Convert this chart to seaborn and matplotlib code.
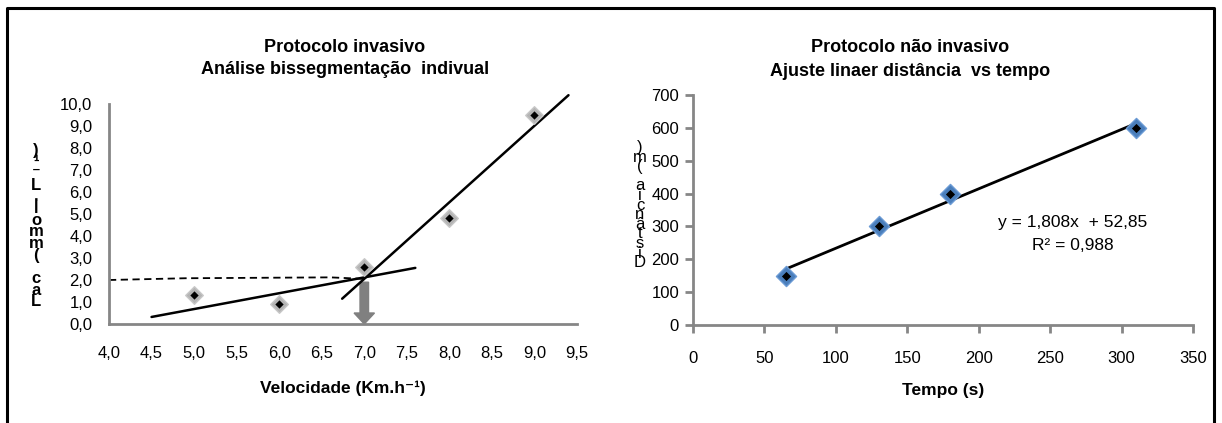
import numpy as np
import pandas as pd
import matplotlib
matplotlib.use("Agg")
import matplotlib.pyplot as plt
from matplotlib.lines import Line2D
import seaborn as sns

# invasive protocol (lactate vs speed)
speed = [5.0, 6.0, 7.0, 8.0, 9.0]
lactate = [1.3, 0.9, 2.6, 4.8, 9.5]
low_seg_x = [4.5, 7.6]
low_seg_y = [0.32, 2.55]
high_seg_x = [6.74, 9.4]
high_seg_y = [1.15, 10.4]
dash_x = [4.0, 4.9, 6.6, 7.0]
dash_y = [2.0, 2.08, 2.12, 2.05]
threshold_speed = 7.0
threshold_lactate = 1.9
x_ticks_left = [4.0, 4.5, 5.0, 5.5, 6.0, 6.5, 7.0, 7.5, 8.0, 8.5, 9.0, 9.5]
y_ticks_left = [0, 1, 2, 3, 4, 5, 6, 7, 8, 9, 10]

# non invasive protocol (distance vs time)
tempo = [65, 130, 180, 310]
distancia = [150, 300, 400, 600]
eq_text = "y = 1,808x  + 52,85"
r2_text = "R² = 0,988"
x_ticks_right = [0, 50, 100, 150, 200, 250, 300, 350]
y_ticks_right = [0, 100, 200, 300, 400, 500, 600, 700]

sns.set_style("white")
plt.rcParams['font.family'] = ['Liberation Sans', 'DejaVu Sans']
plt.rcParams['text.color'] = 'black'
plt.rcParams['axes.labelcolor'] = 'black'
plt.rcParams['xtick.color'] = 'black'
plt.rcParams['ytick.color'] = 'black'

fig = plt.figure(figsize=(12.22, 4.23), dpi=100)
ax1 = fig.add_axes([109 / 1222, 99 / 423, 468 / 1222, 220 / 423])
ax2 = fig.add_axes([693 / 1222, 98 / 423, 500 / 1222, 230 / 423])

axis_gray = '#868686'
tick_fs = 12
label_fs = 12.5
title_fs = 13

# ---- left chart
inv = pd.DataFrame({'v': speed, 'lac': lactate})
sns.scatterplot(data=inv, x='v', y='lac', ax=ax1, marker='D', s=80, color='#b4b4b4',
                edgecolor='#c8c8c8', linewidth=1, zorder=3)
sns.scatterplot(data=inv, x='v', y='lac', ax=ax1, marker='D', s=18, color='black',
                edgecolor='black', linewidth=0, zorder=4)
ax1.plot(low_seg_x, low_seg_y, color='black', lw=1.8, zorder=2)
ax1.plot(high_seg_x, high_seg_y, color='black', lw=1.8, zorder=2, clip_on=False)
ax1.plot(dash_x, dash_y, color='black', lw=1.3, ls=(0, (4, 2.5)), zorder=2)
ax1.arrow(threshold_speed, threshold_lactate, 0, -threshold_lactate + 0.5,
          width=0.1, head_width=0.24, head_length=0.5, length_includes_head=False,
          color='#808080', zorder=1, clip_on=False)

ax1.set_xlim(4.0, 9.5)
ax1.set_ylim(0, 10)
ax1.set_xticks(x_ticks_left)
ax1.set_xticklabels([f"{v:.1f}".replace('.', ',') for v in x_ticks_left])
ax1.set_yticks(y_ticks_left)
ax1.set_yticklabels([f"{v:.1f}".replace('.', ',') for v in y_ticks_left])
ax1.tick_params(axis='both', length=0, labelsize=tick_fs, labelcolor='black')
ax1.tick_params(axis='y', pad=12)
ax1.tick_params(axis='x', pad=16)
ax1.set_xlabel('Velocidade (Km.h⁻¹)', fontsize=label_fs, fontweight='bold', labelpad=14)
ax1.set_ylabel('')
for s in ['top', 'right']:
    ax1.spines[s].set_visible(False)
for s in ['left', 'bottom']:
    ax1.spines[s].set_color(axis_gray)
    ax1.spines[s].set_linewidth(2)

fig.text(345 / 1222, 1 - 48 / 423, 'Protocolo invasivo', ha='center', va='center',
         fontsize=title_fs, fontweight='bold')
fig.text(345 / 1222, 1 - 70 / 423, 'Análise bissegmentação  indivual', ha='center',
         va='center', fontsize=title_fs, fontweight='bold')

# stacked (garbled) y label, bottom-up as in the source
left_label = 'Lac (mmol.L⁻¹)'
fig.text(36 / 1222, 1 - 226 / 423, '\n'.join(reversed(list(left_label))), ha='center',
         va='center', fontsize=12, fontweight='bold', linespacing=0.72)

# ---- right chart
nao = pd.DataFrame({'t': tempo, 'd': distancia})
sns.regplot(data=nao, x='t', y='d', ax=ax2, scatter=False, ci=None, truncate=True,
            line_kws={'color': 'black', 'lw': 2, 'zorder': 2})
sns.scatterplot(data=nao, x='t', y='d', ax=ax2, marker='D', s=105, color='#4a7ebb',
                edgecolor='#6a9ad4', linewidth=1, zorder=3)
sns.scatterplot(data=nao, x='t', y='d', ax=ax2, marker='D', s=22, color='black',
                edgecolor='black', linewidth=0, zorder=4)

ax2.text(266, 312, eq_text, ha='center', va='center', fontsize=12.5)
ax2.text(266, 242, r2_text, ha='center', va='center', fontsize=12.5)

ax2.set_xlim(0, 350)
ax2.set_ylim(0, 700)
ax2.set_xticks(x_ticks_right)
ax2.set_yticks(y_ticks_right)
ax2.tick_params(axis='both', length=6, width=2, color=axis_gray, labelsize=tick_fs,
                labelcolor='black', direction='out', left=True, bottom=True)
ax2.tick_params(axis='x', pad=13)
ax2.tick_params(axis='y', pad=4)
ax2.set_xlabel('Tempo (s)', fontsize=label_fs, fontweight='bold', labelpad=12)
ax2.set_ylabel('')
for s in ['top', 'right']:
    ax2.spines[s].set_visible(False)
for s in ['left', 'bottom']:
    ax2.spines[s].set_color(axis_gray)
    ax2.spines[s].set_linewidth(2)

fig.text(910 / 1222, 1 - 48 / 423, 'Protocolo não invasivo', ha='center', va='center',
         fontsize=title_fs, fontweight='bold')
fig.text(910 / 1222, 1 - 72 / 423, 'Ajuste linaer distância  vs tempo', ha='center',
         va='center', fontsize=title_fs, fontweight='bold')

right_label = 'Distância (m)'
fig.text(640 / 1222, 1 - 205 / 423, '\n'.join(reversed(list(right_label))), ha='center',
         va='center', fontsize=12, linespacing=0.55)

# outer frame (open at the bottom)
fx = [7 / 1222, 7 / 1222, 1214 / 1222, 1214 / 1222]
fy = [0, 1 - 8 / 423, 1 - 8 / 423, 0]
fig.add_artist(Line2D(fx, fy, color='black', lw=2.2, transform=fig.transFigure))

fig.savefig('out.png', dpi=100)
